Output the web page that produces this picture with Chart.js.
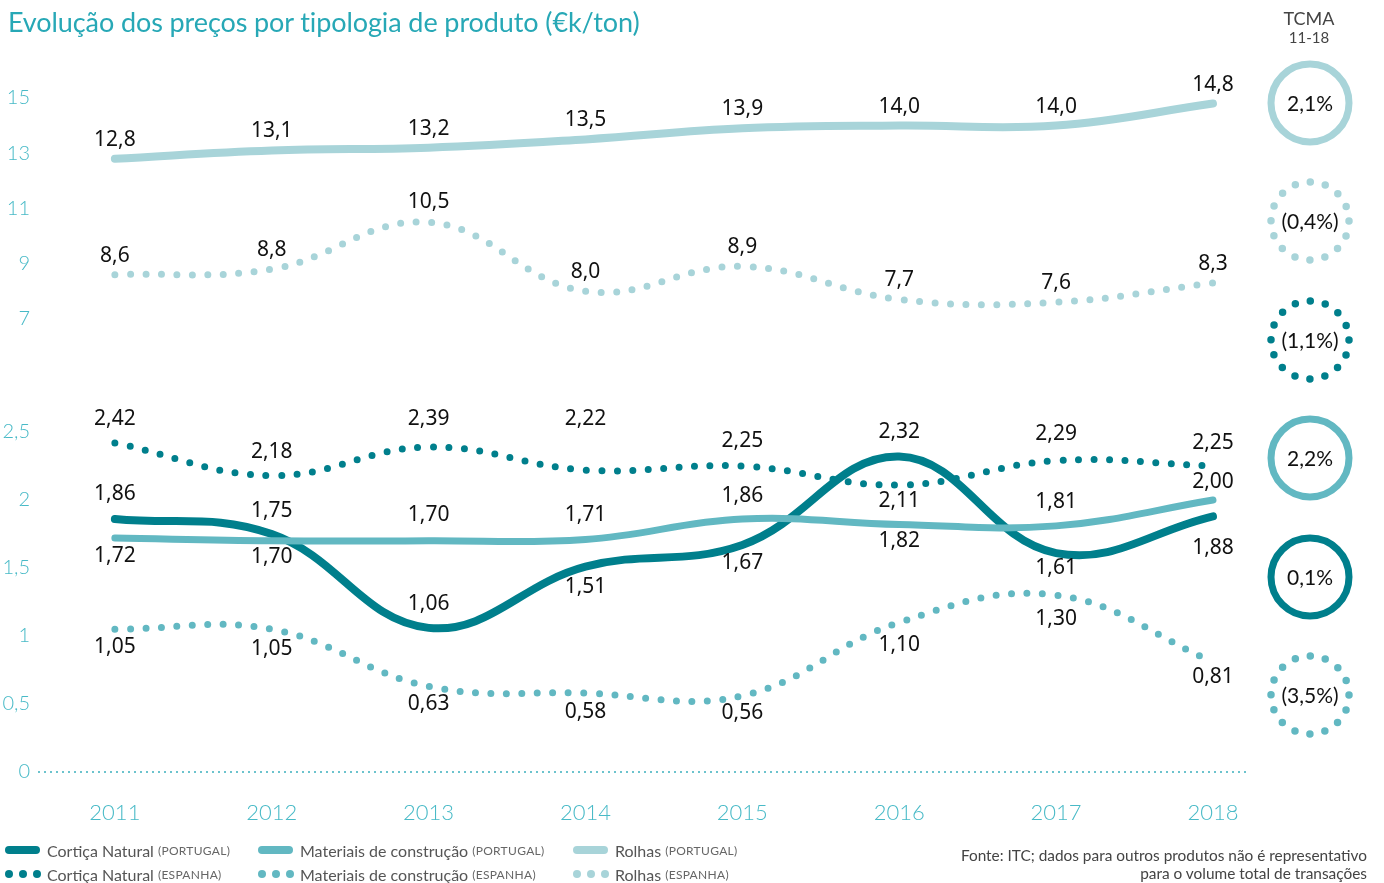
<!DOCTYPE html>
<html>
<head>
<meta charset="utf-8">
<script src="https://cdn.jsdelivr.net/npm/chart.js@4"></script>
<style>
  body { margin: 0; width: 1384px; height: 883px; position: relative; overflow: hidden; background: #fff; font-family: Lato, "Noto Sans", sans-serif; }
  #chart { position: absolute; left: 0; top: 0; }
  #title { position: absolute; left: 8px; top: 6px; font-size: 27px; line-height: 32px; color: #27a8b6; white-space: nowrap; letter-spacing: -0.1px; }
  #tcma { position: absolute; left: 1259px; top: 8px; width: 100px; text-align: center; color: #444; }
  #tcma .a { font-size: 18px; line-height: 20px; }
  #tcma .b { font-size: 15px; line-height: 18px; }
  .pct { position: absolute; left: 1260px; width: 100px; height: 30px; line-height: 30px; text-align: center; font-size: 21px; color: #111; }
  #legend { position: absolute; left: 5px; top: 838px; font-size: 16px; color: #555; }
  .row { position: relative; height: 24px; }
  .item { position: absolute; top: 0; height: 24px; display: flex; align-items: center; white-space: nowrap; }
  .sw { width: 42px; height: 24px; position: relative; flex: none; }
  .bar { position: absolute; left: 0; top: 8px; width: 35px; height: 8px; border-radius: 4px; }
  .dot { position: absolute; top: 8px; width: 8px; height: 8px; border-radius: 50%; }
  .sub { font-size: 12px; color: #666; margin-left: 4px; letter-spacing: 0.3px; }
  #source { position: absolute; right: 17px; top: 846px; text-align: right; font-size: 15.4px; line-height: 18px; color: #444; }
</style>
</head>
<body>
<canvas id="chart" width="1384" height="883"></canvas>
<div id="title">Evolução dos preços por tipologia de produto (€k/ton)</div>
<div id="tcma"><div class="a">TCMA</div><div class="b">11-18</div></div>
<div id="pcts"></div>
<div id="legend"></div>
<div id="source">Fonte: ITC; dados para outros produtos não é representativo<br>para o volume total de transações</div>
<script>
const years = [2011, 2012, 2013, 2014, 2015, 2016, 2017, 2018];

const rolhasPT = [12.8, 13.1, 13.2, 13.5, 13.9, 14.0, 14.0, 14.8];
const rolhasES = [8.6, 8.8, 10.5, 8.0, 8.9, 7.7, 7.6, 8.3];
const corticaPT = [1.86, 1.75, 1.06, 1.51, 1.67, 2.32, 1.61, 1.88];
const corticaES = [2.42, 2.18, 2.39, 2.22, 2.25, 2.11, 2.29, 2.25];
const materiaisPT = [1.72, 1.70, 1.70, 1.71, 1.86, 1.82, 1.81, 2.00];
const materiaisES = [1.05, 1.05, 0.63, 0.58, 0.56, 1.10, 1.30, 0.81];

const topTicks = [7, 9, 11, 13, 15];
const bottomTicks = [0, 0.5, 1, 1.5, 2, 2.5];

const tcmaLabels = ['2,1%', '(0,4%)', '(1,1%)', '2,2%', '0,1%', '(3,5%)'];

const dark = '#007f8c';
const mid = '#62b8c2';
const light = '#a8d4d9';
const tickColor = '#48bac7';

function pts(vals) {
  return years.map((y, i) => ({ x: y, y: vals[i] }));
}

function solid(label, vals, color, axis, width, dy, decimals, order) {
  return {
    label, data: pts(vals), yAxisID: axis, borderColor: color, borderWidth: width,
    borderCapStyle: 'round', borderJoinStyle: 'round', tension: 0.4, pointRadius: 0,
    fill: false, labelDy: dy, decimals, order
  };
}

function dotted(label, vals, color, axis, dy, decimals, order) {
  return {
    label, data: pts(vals), yAxisID: axis, borderColor: color, borderWidth: 7,
    borderDash: [0, 15.5], borderCapStyle: 'round', tension: 0.4, pointRadius: 0,
    fill: false, labelDy: dy, decimals, order
  };
}

const datasets = [
  solid('Rolhas (PORTUGAL)', rolhasPT, light, 'yTop', 8, [-19, -19, -19, -19, -19, -19, -19, -19], 1, 6),
  dotted('Rolhas (ESPANHA)', rolhasES, light, 'yTop', [-19, -19, -20, -19, -19, -19, -19, -19], 1, 5),
  dotted('Cortiça Natural (ESPANHA)', corticaES, dark, 'yBot', [-24, -24, -28, -51, -25, 16, -27, -23], 2, 4),
  solid('Cortiça Natural (PORTUGAL)', corticaPT, dark, 'yBot', 8, [-25, -23, -24, 20, 18, -24, 15, 32], 2, 3),
  solid('Materiais de construção (PORTUGAL)', materiaisPT, mid, 'yBot', 7, [18, 16, -26, -24, -23, 17, -24, -18], 2, 2),
  dotted('Materiais de construção (ESPANHA)', materiaisES, mid, 'yBot', [18, 20, 18, 19, 17, 23, 24, 15], 2, 1)
];

// ring styles for the TCMA column, same order as tcmaLabels
const rings = [
  { color: light, dotted: false },
  { color: light, dotted: true },
  { color: dark, dotted: true },
  { color: mid, dotted: false },
  { color: dark, dotted: false },
  { color: mid, dotted: true }
];
const ringY = [103, 221, 340, 458, 577, 695];

const valueLabels = {
  id: 'valueLabels',
  afterDatasetsDraw(chart) {
    const ctx = chart.ctx;
    ctx.save();
    ctx.font = '21px "Noto Sans", sans-serif';
    ctx.fillStyle = '#111';
    ctx.textAlign = 'center';
    ctx.textBaseline = 'middle';
    chart.data.datasets.forEach((ds, di) => {
      const meta = chart.getDatasetMeta(di);
      meta.data.forEach((pt, i) => {
        const v = ds.data[i].y.toFixed(ds.decimals).replace('.', ',');
        ctx.fillText(v, pt.x, pt.y + ds.labelDy[i]);
      });
    });
    ctx.restore();
  }
};

const ringPlugin = {
  id: 'rings',
  afterDraw(chart) {
    const ctx = chart.ctx;
    rings.forEach((r, i) => {
      ctx.save();
      ctx.beginPath();
      ctx.arc(1310, ringY[i], 39, 0, Math.PI * 2);
      ctx.strokeStyle = r.color;
      if (r.dotted) {
        ctx.lineWidth = 7.5;
        ctx.lineCap = 'round';
        ctx.setLineDash([0, 2 * Math.PI * 39 / 16]);
      } else {
        ctx.lineWidth = 7;
      }
      ctx.stroke();
      ctx.restore();
    });
  }
};

const tickFont = { family: 'Lato, "Noto Sans", sans-serif', size: 20, weight: 300 };

new Chart(document.getElementById('chart'), {
  type: 'line',
  data: { datasets },
  options: {
    responsive: false,
    animation: false,
    devicePixelRatio: 1,
    layout: { padding: { top: 55, right: 134, bottom: 0, left: 0 } },
    plugins: { legend: { display: false }, tooltip: { enabled: false } },
    scales: {
      x: {
        type: 'linear', min: 2010.51, max: 2018.236,
        afterBuildTicks: s => { s.ticks = years.map(v => ({ value: v })); },
        afterFit: s => { s.height = 111; },
        ticks: { callback: v => String(v), color: tickColor, font: { ...tickFont, size: 22 }, padding: 28 },
        grid: { display: false, drawTicks: false },
        border: { display: false }
      },
      yTop: {
        type: 'linear', position: 'left', stack: 'y', stackWeight: 341, weight: 2,
        min: 4.203, max: 16.558,
        afterBuildTicks: s => { s.ticks = topTicks.map(v => ({ value: v })); },
        afterFit: s => { s.width = 38; },
        ticks: { callback: v => String(v).replace('.', ','), color: tickColor, font: tickFont, padding: 8 },
        grid: { display: false, drawTicks: false },
        border: { display: false }
      },
      yBot: {
        type: 'linear', position: 'left', stack: 'y', stackWeight: 376, weight: 1,
        min: 0, max: 2.765,
        afterBuildTicks: s => { s.ticks = bottomTicks.map(v => ({ value: v })); },
        afterFit: s => { s.width = 38; },
        ticks: { callback: v => String(v).replace('.', ','), color: tickColor, font: tickFont, padding: 8 },
        grid: {
          drawTicks: false, lineWidth: 2,
          color: c => (c.tick && c.tick.value === 0 ? '#6cc3cd' : 'rgba(0,0,0,0)')
        },
        border: { display: false, dash: [2, 4] }
      }
    }
  },
  plugins: [valueLabels, ringPlugin]
});

// TCMA percentages
const pcts = document.getElementById('pcts');
tcmaLabels.forEach((t, i) => {
  const d = document.createElement('div');
  d.className = 'pct';
  d.style.top = (ringY[i] - 15) + 'px';
  d.textContent = t;
  pcts.appendChild(d);
});

// legend
const legendCols = [5, 258, 573];
const legendRows = [
  [datasets[3], datasets[4], datasets[0]],
  [datasets[2], datasets[5], datasets[1]]
];
const legend = document.getElementById('legend');
legendRows.forEach(row => {
  const r = document.createElement('div');
  r.className = 'row';
  row.forEach((ds, ci) => {
    const it = document.createElement('div');
    it.className = 'item';
    it.style.left = (legendCols[ci] - 5) + 'px';
    const sw = document.createElement('div');
    sw.className = 'sw';
    if (ds.borderDash) {
      [0, 14, 28].forEach(x => {
        const dt = document.createElement('span');
        dt.className = 'dot';
        dt.style.left = x + 'px';
        dt.style.background = ds.borderColor;
        sw.appendChild(dt);
      });
    } else {
      const b = document.createElement('span');
      b.className = 'bar';
      b.style.background = ds.borderColor;
      sw.appendChild(b);
    }
    it.appendChild(sw);
    const m = ds.label.match(/^(.*) (\(.*\))$/);
    const main = document.createElement('span');
    main.textContent = m[1];
    const sub = document.createElement('span');
    sub.className = 'sub';
    sub.textContent = m[2];
    it.appendChild(main);
    it.appendChild(sub);
    r.appendChild(it);
  });
  legend.appendChild(r);
});
</script>
</body>
</html>
